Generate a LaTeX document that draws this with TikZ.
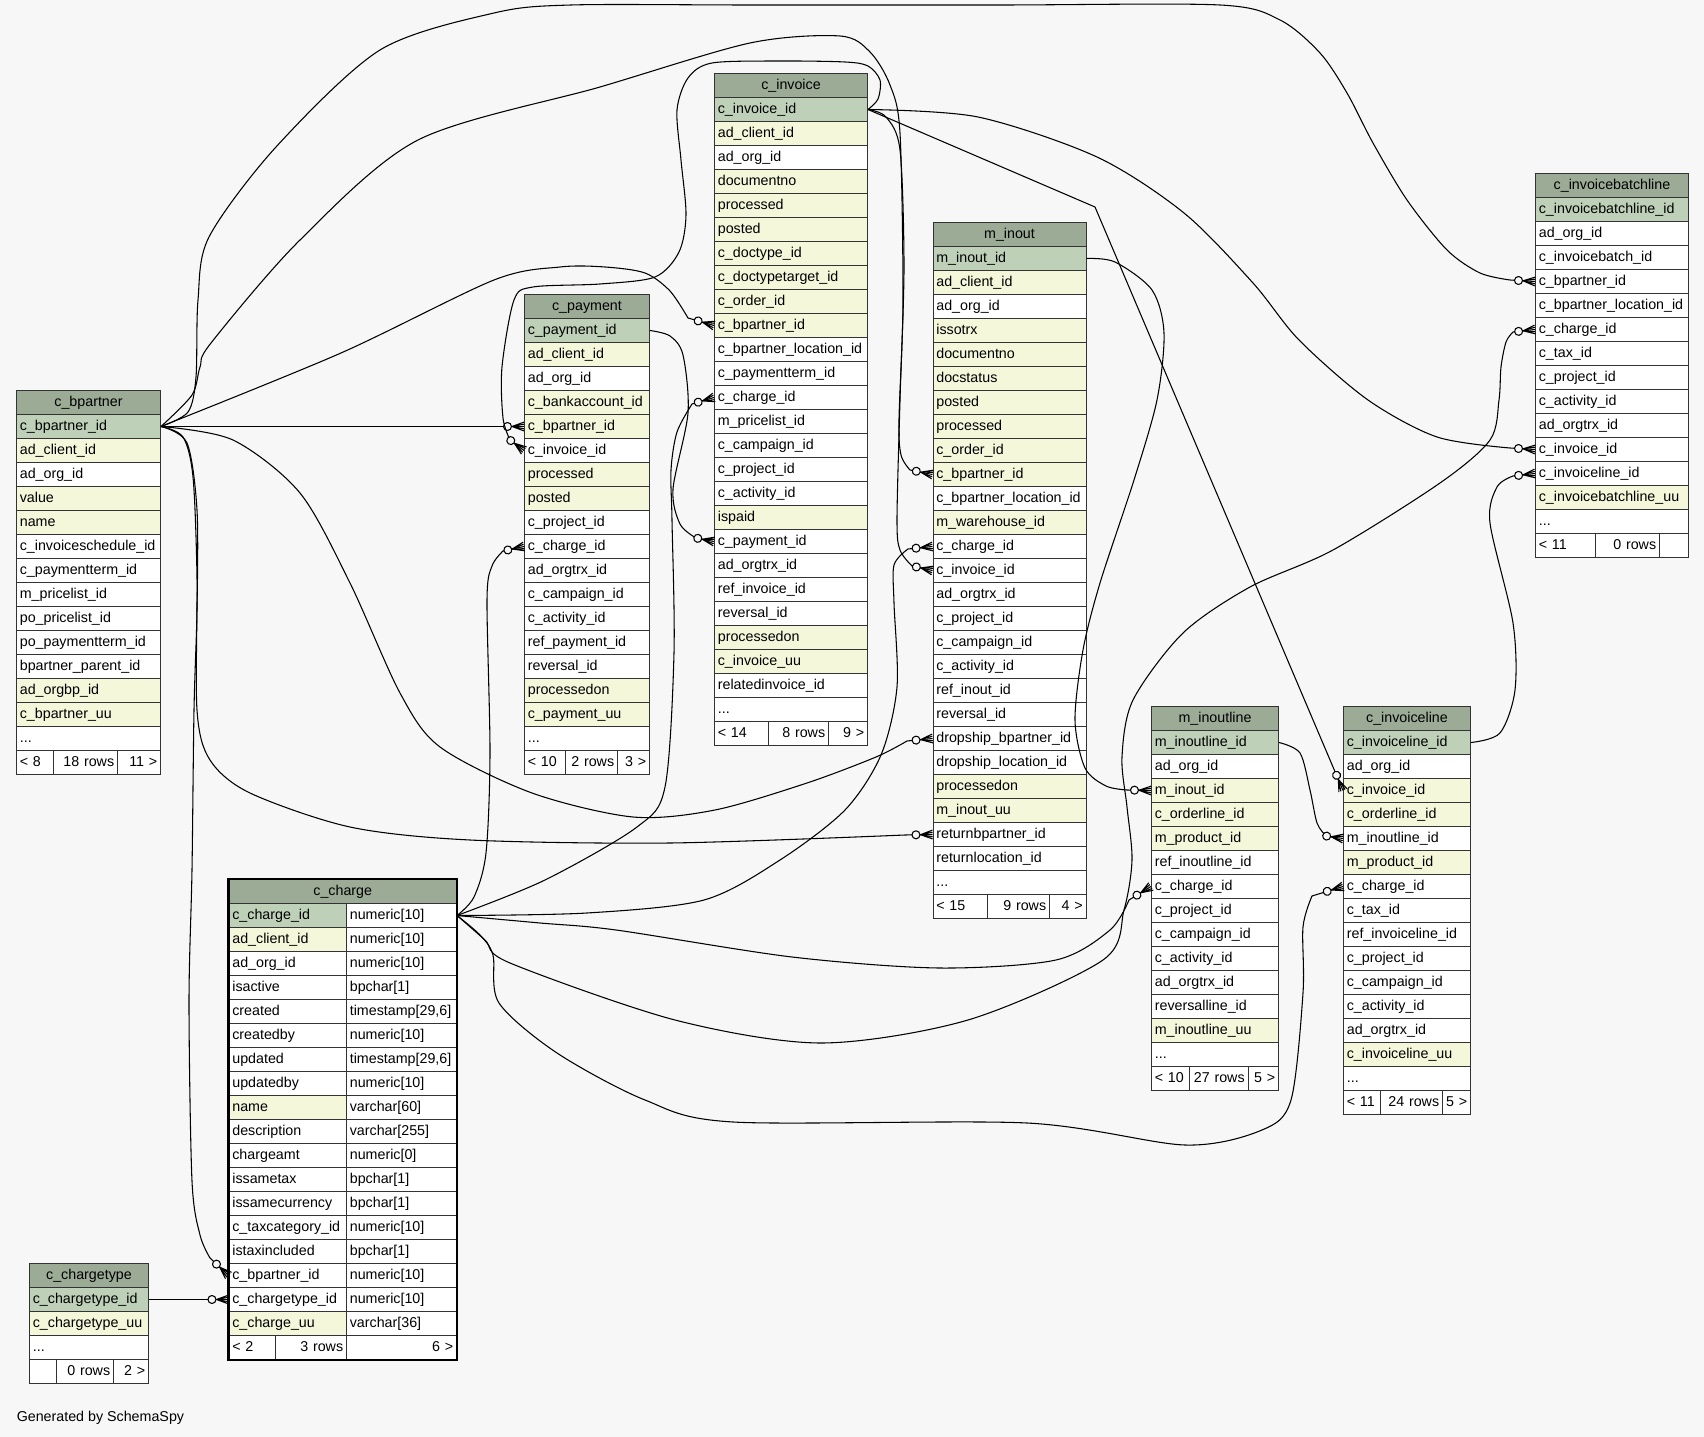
\documentclass[tikz,border=0pt]{standalone}
\usepackage{fontspec}
\setmainfont{Liberation Sans}
\usetikzlibrary{arrows.meta}

\definecolor{bgcol}{HTML}{F7F7F7}
\definecolor{headcol}{HTML}{9BAB96}
\definecolor{pk}{HTML}{BED1B8}
\definecolor{ix}{HTML}{F4F7DA}
\colorlet{wt}{white}
\colorlet{linecol}{black!80}

\newcommand\cellfont{\fontsize{10.7}{12}\selectfont}
\newcommand\more{...}

\pgfdeclarearrow{
  name = crowodot,
  setup code = {
    \pgfarrowssettipend{0pt}
    \pgfarrowssetlineend{0pt}
    \pgfarrowssetbackend{-15.5pt}
    \pgfarrowshullpoint{0pt}{3.5pt}
    \pgfarrowshullpoint{0pt}{-3.5pt}
    \pgfarrowshullpoint{-15.5pt}{3.2pt}
    \pgfarrowshullpoint{-15.5pt}{-3.2pt}
  },
  drawing code = {
    \pgfsetdash{}{0pt}
    \pgfsetroundjoin
    \pgfpathmoveto{\pgfqpoint{0pt}{3.3pt}}
    \pgfpathlineto{\pgfqpoint{-9pt}{0pt}}
    \pgfpathlineto{\pgfqpoint{0pt}{-3.3pt}}
    \pgfpathmoveto{\pgfqpoint{0pt}{1.7pt}}
    \pgfpathlineto{\pgfqpoint{-9pt}{0pt}}
    \pgfpathlineto{\pgfqpoint{0pt}{-1.7pt}}
    \pgfusepathqstroke
    \pgfpathcircle{\pgfqpoint{-12.4pt}{0pt}}{3pt}
    \pgfsetfillcolor{bgcol}
    \pgfusepathqfillstroke
  }
}

\tikzset{
  dbrow/.style={draw=linecol, line width=0.75pt, anchor=north west,
    minimum height=18pt, inner xsep=2.5pt, inner ysep=0pt,
    text height=8pt, text depth=2.5pt, align=left, font=\cellfont},
  dbhead/.style={dbrow, fill=headcol, align=center},
  fk/.style={draw=black, line width=0.8pt, -{crowodot[]}}
}

\newcommand\dbtable[5]{%
  \pgfmathsetmacro\tw{#4*0.75-5}
  \node[dbhead, text width=\tw pt] (#1) at (#2,#3) {#1};
  \foreach \cl/\nm [count=\i] in {#5}
    \node[dbrow, fill=\cl, text width=\tw pt] (#1-\nm) at (#2,#3+24*\i) {\nm};
}

\newcommand\dbfoot[9]{%
  \pgfmathsetmacro\wa{(#4-#3)*0.75-5}
  \pgfmathsetmacro\wb{(#5-#4)*0.75-5}
  \pgfmathsetmacro\wc{(#6-#5)*0.75-5}
  \node[dbrow, fill=wt, text width=\wa pt] (#1-prev) at (#3,#2) {#7};
  \node[dbrow, fill=wt, text width=\wb pt, align=right] (#1-rows) at (#4,#2) {#8};
  \node[dbrow, fill=wt, text width=\wc pt, align=right] (#1-next) at (#5,#2) {#9};
}

\begin{document}
\catcode`\_=12
\begin{tikzpicture}[x=0.75pt, y=-0.75pt]
  \path[fill=bgcol] (0,0) rectangle (1704,1437);

  \dbtable{c_bpartner}{16}{390}{144}{pk/c_bpartner_id, ix/ad_client_id, wt/ad_org_id,
    ix/value, ix/name, wt/c_invoiceschedule_id, wt/c_paymentterm_id, wt/m_pricelist_id,
    wt/po_pricelist_id, wt/po_paymentterm_id, wt/bpartner_parent_id, ix/ad_orgbp_id,
    ix/c_bpartner_uu, wt/\more}
  \dbfoot{c_bpartner}{750}{16}{53}{117}{160}{<~8}{18~rows}{11~>}

  \dbtable{c_chargetype}{29}{1263}{119}{pk/c_chargetype_id, ix/c_chargetype_uu, wt/\more}
  \dbfoot{c_chargetype}{1359}{29}{56}{113}{148}{}{0~rows}{2~>}

  \node[dbhead, text width=165.6pt] (c_charge) at (228.5,879) {c_charge};
  \foreach \cl/\nm/\ty [count=\i] in {pk/c_charge_id/numeric[10], ix/ad_client_id/numeric[10],
    wt/ad_org_id/numeric[10], wt/isactive/bpchar[1], wt/created/{timestamp[29,6]},
    wt/createdby/numeric[10], wt/updated/{timestamp[29,6]}, wt/updatedby/numeric[10],
    ix/name/varchar[60], wt/description/varchar[255], wt/chargeamt/numeric[0],
    wt/issametax/bpchar[1], wt/issamecurrency/bpchar[1], wt/c_taxcategory_id/numeric[10],
    wt/istaxincluded/bpchar[1], wt/c_bpartner_id/numeric[10], wt/c_chargetype_id/numeric[10],
    ix/c_charge_uu/varchar[36]} {
    \node[dbrow, fill=\cl, text width=83.1pt] (c_charge-\nm) at (228.5,879+24*\i) {\nm};
    \node[dbrow, fill=wt, text width=77.5pt] (c_charge-\nm-type) at (346,879+24*\i) {\ty};
  }
  \dbfoot{c_charge}{1335}{228.5}{275.3}{346}{456}{<~2}{3~rows}{6~>}
  \draw[draw=black, line width=2.2pt] (c_charge.north west) rectangle (c_charge-next.south east);

  \dbtable{c_payment}{524}{294}{125}{pk/c_payment_id, ix/ad_client_id, wt/ad_org_id,
    ix/c_bankaccount_id, ix/c_bpartner_id, wt/c_invoice_id, ix/processed, ix/posted,
    wt/c_project_id, wt/c_charge_id, wt/ad_orgtrx_id, wt/c_campaign_id, wt/c_activity_id,
    wt/ref_payment_id, wt/reversal_id, ix/processedon, ix/c_payment_uu, wt/\more}
  \dbfoot{c_payment}{750}{524}{565}{617}{649}{<~10}{2~rows}{3~>}

  \dbtable{c_invoice}{714}{73}{153}{pk/c_invoice_id, ix/ad_client_id, wt/ad_org_id,
    ix/documentno, ix/processed, ix/posted, ix/c_doctype_id, ix/c_doctypetarget_id,
    ix/c_order_id, ix/c_bpartner_id, wt/c_bpartner_location_id, wt/c_paymentterm_id,
    wt/c_charge_id, wt/m_pricelist_id, wt/c_campaign_id, wt/c_project_id, wt/c_activity_id,
    ix/ispaid, wt/c_payment_id, wt/ad_orgtrx_id, wt/ref_invoice_id, wt/reversal_id,
    ix/processedon, ix/c_invoice_uu, wt/relatedinvoice_id, wt/\more}
  \dbfoot{c_invoice}{721}{714}{768}{828}{867}{<~14}{8~rows}{9~>}

  \dbtable{m_inout}{932.5}{222}{153}{pk/m_inout_id, ix/ad_client_id, wt/ad_org_id,
    ix/issotrx, ix/documentno, ix/docstatus, ix/posted, ix/processed, ix/c_order_id,
    ix/c_bpartner_id, wt/c_bpartner_location_id, ix/m_warehouse_id, wt/c_charge_id,
    wt/c_invoice_id, wt/ad_orgtrx_id, wt/c_project_id, wt/c_campaign_id, wt/c_activity_id,
    wt/ref_inout_id, wt/reversal_id, wt/dropship_bpartner_id, wt/dropship_location_id,
    ix/processedon, ix/m_inout_uu, wt/returnbpartner_id, wt/returnlocation_id, wt/\more}
  \dbfoot{m_inout}{894}{932.5}{987}{1049}{1085.5}{<~15}{9~rows}{4~>}

  \dbtable{m_inoutline}{1151}{706}{127}{pk/m_inoutline_id, wt/ad_org_id, ix/m_inout_id,
    ix/c_orderline_id, ix/m_product_id, wt/ref_inoutline_id, wt/c_charge_id, wt/c_project_id,
    wt/c_campaign_id, wt/c_activity_id, wt/ad_orgtrx_id, wt/reversalline_id,
    ix/m_inoutline_uu, wt/\more}
  \dbfoot{m_inoutline}{1066}{1151}{1189}{1247.5}{1278}{<~10}{27~rows}{5~>}

  \dbtable{c_invoiceline}{1343}{706}{127}{pk/c_invoiceline_id, wt/ad_org_id, ix/c_invoice_id,
    ix/c_orderline_id, wt/m_inoutline_id, ix/m_product_id, wt/c_charge_id, wt/c_tax_id,
    wt/ref_invoiceline_id, wt/c_project_id, wt/c_campaign_id, wt/c_activity_id,
    wt/ad_orgtrx_id, ix/c_invoiceline_uu, wt/\more}
  \dbfoot{c_invoiceline}{1090}{1343}{1380}{1442}{1470}{<~11}{24~rows}{5~>}

  \dbtable{c_invoicebatchline}{1535}{173}{153}{pk/c_invoicebatchline_id, wt/ad_org_id,
    wt/c_invoicebatch_id, wt/c_bpartner_id, wt/c_bpartner_location_id, wt/c_charge_id,
    wt/c_tax_id, wt/c_project_id, wt/c_activity_id, wt/ad_orgtrx_id, wt/c_invoice_id,
    wt/c_invoiceline_id, ix/c_invoicebatchline_uu, wt/\more}
  \dbfoot{c_invoicebatchline}{533}{1535}{1595}{1659}{1688}{<~11}{0~rows}{}

  \node[anchor=west, inner sep=0pt, font=\cellfont] (credit) at (16.5,1418) {Generated by SchemaSpy};

  \draw[fk] plot[smooth] coordinates {(c_bpartner-c_bpartner_id.east) (188,412) (196,377) (198,300)
    (209,237) (276,147) (380,50) (494,13) (571,5) (750,5) (1000,5) (1220,5) (1280,20) (1320,53)
    (1347,93) (1373,143) (1407,200) (1447,250) (1480,273) (1510,280)}
    -- (c_invoicebatchline-c_bpartner_id.west);
  \draw[fk] (c_bpartner-c_bpartner_id.east) -- (c_payment-c_bpartner_id.west);
  \draw[fk] plot[smooth] coordinates {(c_bpartner-c_bpartner_id.east) (341,353) (494,280) (560,267)
    (605,267) (645,273) (670,291) (688,318)} -- (c_invoice-c_bpartner_id.west);
  \draw[fk] plot[smooth] coordinates {(c_bpartner-c_bpartner_id.east) (192,395) (200,367) (211,343)
    (300,240) (418,140) (600,87) (750,43) (840,36) (870,52) (890,85) (900,133) (903,300)
    (899,420) (901,455) (910,470)} -- (m_inout-c_bpartner_id.west);
  \draw[fk] plot[smooth] coordinates {(c_bpartner-c_bpartner_id.east) (233,440) (300,493) (350,583)
    (400,693) (440,747) (532,793) (633,817) (715,810) (807,783) (876,757) (907,741)}
    -- (m_inout-dropship_bpartner_id.west);
  \draw[fk] plot[smooth] coordinates {(c_bpartner-c_bpartner_id.east) (183,437) (193,477) (197,577)
    (197,710) (210,760) (250,793) (350,827) (470,840) (670,843) (905,835)}
    -- (m_inout-returnbpartner_id.west);
  \draw[fk] plot[smooth] coordinates {(c_bpartner-c_bpartner_id.east) (187,443) (197,510) (197,610)
    (194,710) (192,870) (189,1003) (192,1181) (200,1235) (210,1258)} -- (c_charge-c_bpartner_id.west);

  \draw[fk] (c_chargetype-c_chargetype_id.east) -- (c_charge-c_chargetype_id.west);

  \draw[fk] plot[smooth] coordinates {(c_charge-c_charge_id-type.east) (474,897) (486,853) (490,753)
    (487,600) (492,566) (503,551)} -- (c_payment-c_charge_id.west);
  \draw[fk] plot[smooth] coordinates {(c_charge-c_charge_id-type.east) (545,880) (637,827) (665,787)
    (674,653) (672,520) (671,470) (677,432) (692,404)} -- (c_invoice-c_charge_id.west);
  \draw[fk] plot[smooth] coordinates {(c_charge-c_charge_id-type.east) (587,913) (704,900) (780,860)
    (845,810) (881,755) (897,687) (894,603) (894,565) (908,549)} -- (m_inout-c_charge_id.west);
  \draw[fk] plot[smooth] coordinates {(c_charge-c_charge_id-type.east) (485,940) (510,963) (675,1020)
    (821,1043) (968,1020) (1103,960) (1124,910) (1132,860) (1127,807) (1122,757) (1133,700)
    (1183,633) (1250,587) (1333,550) (1440,483) (1490,440) (1499,400) (1501,367) (1506,342)
    (1513,332)} -- (c_invoicebatchline-c_charge_id.west);
  \draw[fk] plot[smooth] coordinates {(c_charge-c_charge_id-type.east) (540,923) (616,930) (792,957)
    (939,968) (1056,960) (1110,930) (1129,900)} -- (m_inoutline-c_charge_id.west);
  \draw[fk] plot[smooth] coordinates {(c_charge-c_charge_id-type.east) (480,935) (493,955) (499,1003)
    (557,1053) (645,1100) (733,1122) (1027,1123) (1185,1145) (1262,1130) (1291,1100) (1303,993)
    (1303,927) (1312,896)} -- (c_invoiceline-c_charge_id.west);

  \draw[fk] plot[smooth] coordinates {(c_payment-c_payment_id.east) (670,336) (683,355) (688,413)
    (673,489) (680,524) (696,538)} -- (c_invoice-c_payment_id.west);

  \draw[fk] plot[smooth] coordinates {(c_invoice-c_invoice_id.east) (878,99) (880,80) (868,66)
    (845,62) (780,61) (712,63) (688,78) (677,110) (681,160) (686,215) (679,252) (655,277)
    (600,284) (533,287) (514,300) (502,367) (503,418) (510,440)} -- (c_payment-c_invoice_id.west);
  \draw[fk] plot[smooth] coordinates {(c_invoice-c_invoice_id.east) (886,117) (900,150) (904,267)
    (900,400) (897,520) (900,550) (912,566)} -- (m_inout-c_invoice_id.west);
  \draw[fk] plot[smooth] coordinates {(c_invoice-c_invoice_id.east) (978,117) (1097,157) (1184,213)
    (1253,283) (1299,340) (1368,400) (1437,437) (1510,448)} -- (c_invoicebatchline-c_invoice_id.west);
  \draw[fk] (c_invoice-c_invoice_id.east) -- (1095,207) -- (c_invoiceline-c_invoice_id.west);

  \draw[fk] plot[smooth] coordinates {(m_inout-m_inout_id.east) (1115,262) (1152,290) (1164,333)
    (1157,400) (1134,480) (1100,583) (1083,650) (1075,720) (1085,768) (1106,786) (1127,790)}
    -- (m_inoutline-m_inout_id.west);
  \draw[fk] plot[smooth] coordinates {(m_inoutline-m_inoutline_id.east) (1300,753) (1310,790)
    (1317,823) (1326,836)} -- (c_invoiceline-m_inoutline_id.west);
  \draw[fk] plot[smooth] coordinates {(c_invoiceline-c_invoiceline_id.east) (1500,733) (1515,690)
    (1513,623) (1490,523) (1497,487) (1513,476)} -- (c_invoicebatchline-c_invoiceline_id.west);
\end{tikzpicture}
\end{document}
